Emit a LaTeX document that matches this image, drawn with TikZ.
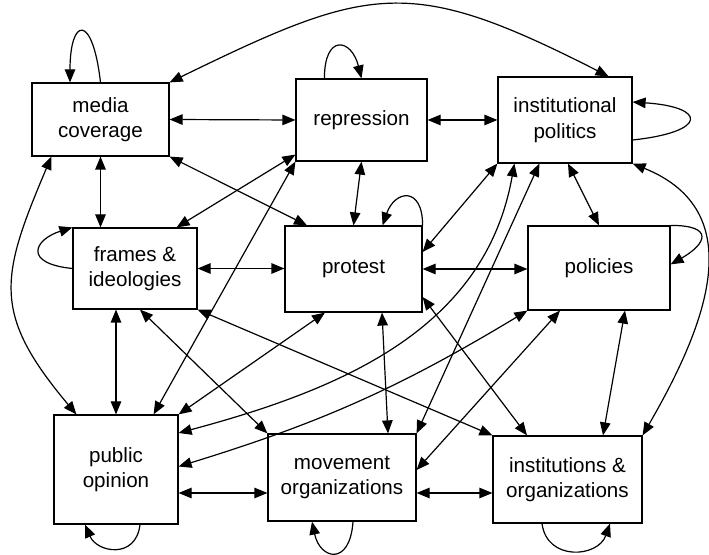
\documentclass[tikz,border=0pt]{standalone}
\usepackage{fontspec}
\setmainfont{Liberation Sans}
\usetikzlibrary{arrows.meta}

\begin{document}
\begin{tikzpicture}[x=1pt,y=1pt,line width=1.2pt,
    >={Triangle[length=13pt,width=10.5pt]},
    box/.style={draw,align=center,inner sep=2pt,
      font=\fontsize{20.6}{25.6}\selectfont}]
      \useasboundingbox (0,0) rectangle (709,554);
      \draw
        (100.5,434.5) node[box,minimum width=137pt,minimum height=73pt] (media){media\\coverage}
        (361.5,434) node[box,minimum width=131pt,minimum height=82pt] (repr){repression}
        (565,434) node[box,minimum width=134pt,minimum height=86pt] (inst){institutional\\politics}
        (135,285.5) node[box,minimum width=124pt,minimum height=81pt] (frames){frames \&\\ideologies}
        (353.5,285) node[box,minimum width=137pt,minimum height=86pt] (protest){protest}
        (599,286) node[box,minimum width=142pt,minimum height=84pt] (policies){policies}
        (116,84.5) node[box,minimum width=124pt,minimum height=109pt] (opinion){public\\opinion}
        (342,76.5) node[box,minimum width=148pt,minimum height=87pt] (movement){movement\\organizations}
        (567.5,74.5) node[box,minimum width=149pt,minimum height=87pt] (instorg){institutions \&\\organizations};
      \begin{scope}[<->]
        \draw (media.east) to (repr.west);
        \draw (repr.east) to (inst.west);
        \draw (media.south) to (media.south |- frames.north);
        \draw (media.south east) to ([xshift=-46.5pt]protest.north);
        \draw (media.north east) to[out=26,in=153,looseness=1.3] ([xshift=-24pt]inst.north east);
        \draw ([xshift=20pt]media.south west) to[out=247,in=130,looseness=1.3] ([xshift=23pt]opinion.north west);
        \draw ([yshift=7pt]repr.south west) to ([xshift=-21pt]frames.north east);
        \draw (repr.south west) to ([xshift=-25pt]opinion.north east);
        \draw (repr.south) to (protest.north);
        \draw (inst.south west) to ([yshift=17pt]protest.east);
        \draw ([xshift=17pt]inst.south west) to[out=-100,in=15] ([yshift=36.5pt]opinion.east);
        \draw ([xshift=42pt]inst.south west) to (movement.north east);
        \draw ([xshift=3pt]inst.south) to (policies.north);
        \draw (inst.south east) to[out=-22,in=60,looseness=1.2] (instorg.north east);
        \draw (frames.east) to (frames.east -| protest.west);
        \draw (opinion.north) to (opinion.north |- frames.south);
        \draw ([xshift=5pt]frames.south) to (movement.north west);
        \draw (frames.south east) to (instorg.north west);
        \draw (protest.east) to (protest.east -| policies.west);
        \draw ([xshift=-28.5pt]protest.south) to (opinion.north east);
        \draw ([xshift=28.5pt]protest.south) to ([xshift=46pt]movement.north);
        \draw ([yshift=-28pt]protest.east) to ([xshift=-40.5pt]instorg.north);
        \draw (policies.south west) to[bend left=7] ([yshift=3pt]opinion.east);
        \draw ([xshift=-39pt]policies.south) to ([yshift=7.5pt]movement.east);
        \draw ([xshift=26pt]policies.south) to ([xshift=35.5pt]instorg.north);
        \draw ([yshift=-23.5pt]opinion.east) to ([yshift=-23.5pt]opinion.east -| movement.west);
        \draw ([yshift=-15.5pt]movement.east) to ([yshift=-15.5pt]movement.east -| instorg.west);
      \end{scope}
      % self loops
      \begin{scope}[->]
        \draw (media.north) .. controls +(-8,70) and +(0,65) .. ([xshift=-30.5pt]media.north);
        \draw ([xshift=29pt]repr.north west) .. controls +(0,45) and +(-10,40) .. (repr.north);
        \draw (inst.east) ++(0,-20) .. controls +(75,8) and +(75,-5) .. ([yshift=18pt]inst.east);
        \draw (frames.west) .. controls +(-50,5) and +(-38,-12) .. (frames.north west);
        \draw (protest.north east) .. controls +(0,40) and +(12,35) .. ([xshift=-40pt]protest.north east);
        \draw (policies.north east) .. controls +(45,0) and +(35,20) .. ([yshift=-39pt]policies.north east);
        \draw ([xshift=24pt]opinion.south) .. controls +(-4,-35) and +(12,-28) .. ([xshift=-31pt]opinion.south);
        \draw ([xshift=11pt]movement.south) .. controls +(-3,-45) and +(8,-38) .. ([xshift=-30pt]movement.south);
        \draw ([xshift=-25.5pt]instorg.south) .. controls +(5,-38) and +(-12,-34) .. ([xshift=42.5pt]instorg.south);
      \end{scope}
    \end{tikzpicture}
\end{document}
